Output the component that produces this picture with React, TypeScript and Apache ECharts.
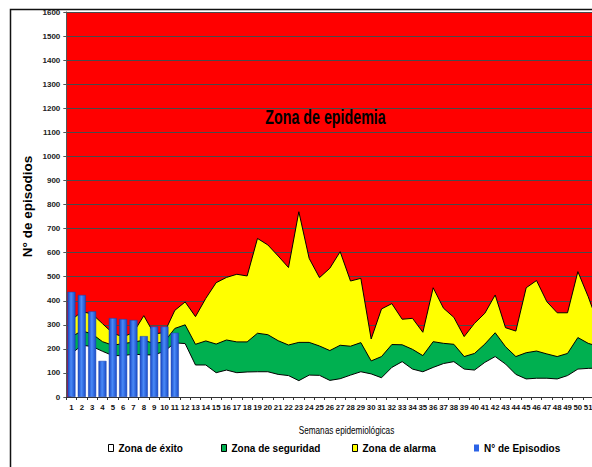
import React, { useEffect, useRef } from "react";
import * as echarts from "echarts";

const weeks = ["1","2","3","4","5","6","7","8","9","10","11","12","13","14","15","16","17","18","19","20","21","22","23","24","25","26","27","28","29","30","31","32","33","34","35","36","37","38","39","40","41","42","43","44","45","46","47","48","49","50","51","52"];

// Top of "Zona de alarma" (yellow)
const alarmaTop = [320,355,345,305,265,250,268,338,262,268,360,395,334,410,475,497,510,503,659,632,586,538,770,576,496,535,604,482,493,241,366,388,323,327,269,454,369,331,251,306,348,424,288,274,454,484,396,350,350,521,417,300];
// Top of "Zona de seguridad" (green)
const seguridadTop = [250,275,262,230,215,222,228,236,222,230,285,300,219,233,220,237,229,229,265,259,234,216,227,227,212,193,215,211,226,150,168,218,217,198,172,230,223,219,168,181,220,267,209,168,184,191,179,168,181,247,223,210];
// Top of "Zona de éxito" (white)
const exitoTop = [180,215,210,190,172,172,178,175,175,190,225,222,133,133,101,112,101,104,105,105,94,89,68,91,90,69,76,91,105,96,80,123,147,116,105,123,139,147,116,112,144,168,137,94,75,78,78,75,89,116,119,120];
// N° de episodios (weeks 1-11)
const episodios = [437,424,356,150,328,324,320,253,293,293,267];

const yTicks = { min: 0, max: 1600, interval: 100 };

const SANS = "'Liberation Sans', Arial, sans-serif";

export default function App() {
  const ref = useRef<HTMLDivElement>(null);
  useEffect(() => {
    if (!ref.current) return;
    const chart = echarts.init(ref.current, null, { renderer: "svg" });
    const areaSeries = (name: string, data: number[], color: string, z: number) => ({
      name,
      type: "line",
      data,
      z,
      symbol: "none",
      silent: true,
      itemStyle: { color },
      lineStyle: { color: "#000", width: 1 },
      areaStyle: { color, opacity: 1 },
      emphasis: { disabled: true },
    });
    const legendBase = {
      orient: "horizontal",
      top: 443,
      padding: 0,
      itemGap: 0,
      itemWidth: 5,
      itemHeight: 7,
      icon: "rect",
      selectedMode: false,
      textStyle: { fontFamily: SANS, fontWeight: "bold", fontSize: 10, color: "#000" },
    };
    chart.setOption({
      animation: false,
      backgroundColor: "#fff",
      grid: {
        left: 66.3,
        right: 16.3,
        top: 12,
        bottom: 70,
        show: true,
        backgroundColor: "#ff0000",
        borderWidth: 0,
      },
      xAxis: {
        type: "category",
        data: weeks,
        boundaryGap: true,
        axisLine: { show: true, lineStyle: { color: "#333", width: 1 } },
        axisTick: { show: true, length: 3, lineStyle: { color: "#333" } },
        axisLabel: {
          interval: (i: number) => i < 51,
          margin: 6,
          fontFamily: SANS,
          fontSize: 7.8,
          fontWeight: "bold",
          color: "#111",
        },
        splitLine: { show: false },
      },
      yAxis: {
        type: "value",
        min: yTicks.min,
        max: yTicks.max,
        interval: yTicks.interval,
        axisLine: { show: true, lineStyle: { color: "#555", width: 1 } },
        axisTick: { show: true, length: 3, lineStyle: { color: "#555" } },
        axisLabel: {
          margin: 6,
          formatter: (v: number) => String(v),
          fontFamily: SANS,
          fontSize: 8,
          fontWeight: "bold",
          color: "#222",
        },
        splitLine: { show: true, lineStyle: { color: "#4a4a4a", width: 1 } },
      },
      legend: [
        { ...legendBase, left: 108, data: ["Zona de éxito"], itemStyle: { borderColor: "#000", borderWidth: 1 } },
        { ...legendBase, left: 221, data: ["Zona de seguridad"], itemStyle: { borderColor: "#000", borderWidth: 1 } },
        { ...legendBase, left: 352, data: ["Zona de alarma"], itemStyle: { borderColor: "#000", borderWidth: 1 } },
        { ...legendBase, left: 474, data: ["N° de Episodios"], itemStyle: { color: "#2b63e6", borderWidth: 0 } },
      ],
      series: [
        areaSeries("Zona de alarma", alarmaTop, "#ffff00", 2),
        areaSeries("Zona de seguridad", seguridadTop, "#00b050", 3),
        areaSeries("Zona de éxito", exitoTop, "#ffffff", 4),
        {
          name: "N° de Episodios",
          type: "bar",
          data: episodios,
          barWidth: 8,
          z: 10,
          silent: true,
          itemStyle: {
            color: new echarts.graphic.LinearGradient(0, 0, 1, 0, [
              { offset: 0, color: "#1746c4" },
              { offset: 0.45, color: "#4a8af7" },
              { offset: 1, color: "#1a4cc8" },
            ]),
            borderColor: "#1640b0",
            borderWidth: 0.5,
          },
        },
      ],
      graphic: [
        {
          type: "rect",
          z: 100,
          silent: true,
          shape: { x: 10.5, y: 9.5, width: 700, height: 500 },
          style: { fill: "none", stroke: "#111", lineWidth: 1.5 },
        },
        {
          type: "text",
          z: 100,
          x: 325.5,
          y: 117,
          scaleX: 0.68,
          style: {
            text: "Zona de epidemia",
            font: `bold 21px ${SANS}`,
            fill: "#000",
            textAlign: "center",
            textVerticalAlign: "middle",
          },
        },
        {
          type: "text",
          z: 100,
          x: 27,
          y: 206.5,
          rotation: Math.PI / 2,
          style: {
            text: "N° de episodios",
            font: `bold 13.5px ${SANS}`,
            fill: "#000",
            textAlign: "center",
            textVerticalAlign: "middle",
          },
        },
        {
          type: "text",
          z: 100,
          x: 346.5,
          y: 430,
          scaleX: 0.78,
          style: {
            text: "Semanas epidemiológicas",
            font: `10.5px ${SANS}`,
            fill: "#000",
            textAlign: "center",
            textVerticalAlign: "middle",
          },
        },
      ],
    });
    return () => chart.dispose();
  }, []);
  return (
    <div style={{ position: "fixed", left: 0, top: 0, width: 592, height: 467, overflow: "hidden", background: "#fff" }}>
      <div ref={ref} style={{ width: 620, height: 467 }} />
    </div>
  );
}
